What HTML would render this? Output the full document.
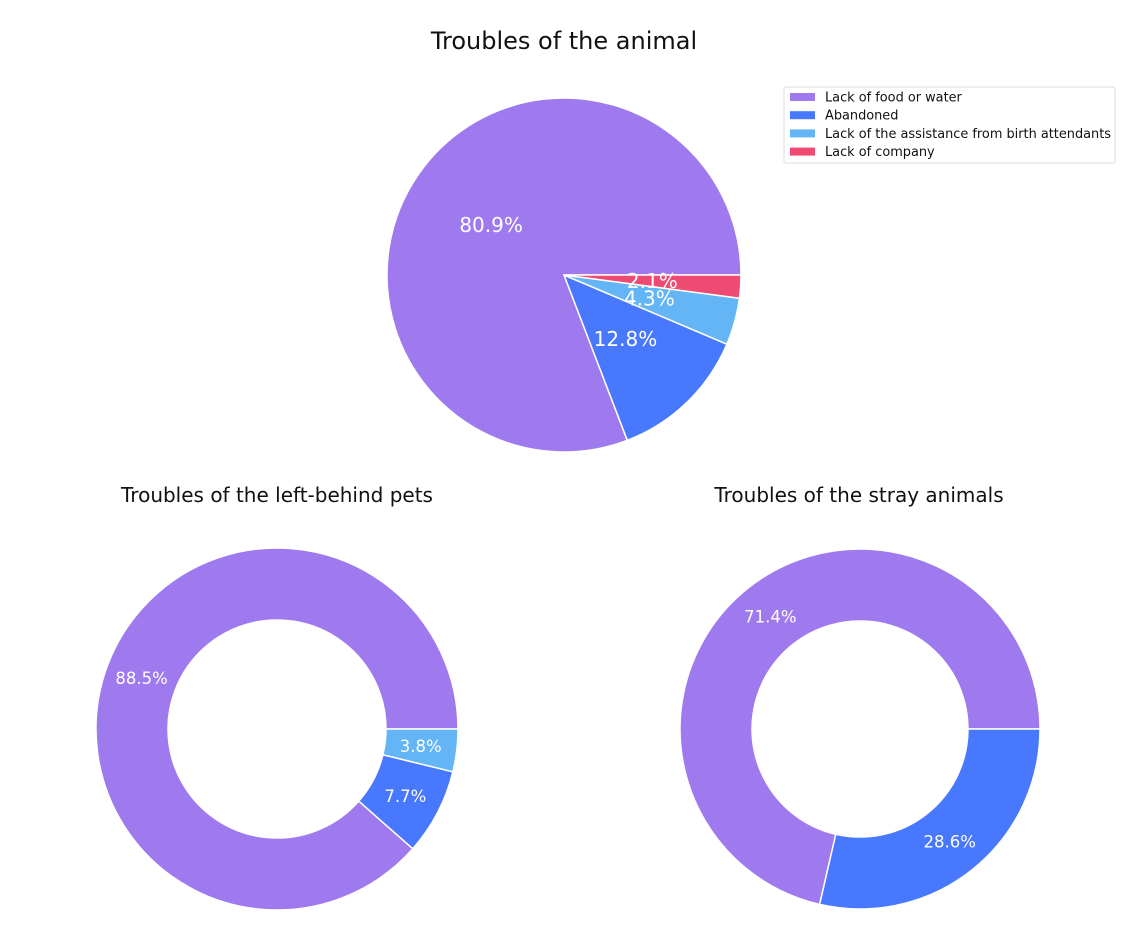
<!DOCTYPE html>
<html><head><meta charset="utf-8"><style>
body{margin:0;background:#fff;}
svg{display:block;font-family:"DejaVu Sans","Liberation Sans",sans-serif;}
</style></head><body>
<svg id="chart" width="1130" height="941">
<text x="564" y="49" font-size="24" text-anchor="middle" fill="#111">Troubles of the animal</text>
<text x="277" y="502" font-size="20" text-anchor="middle" fill="#111">Troubles of the left-behind pets</text>
<text x="859" y="502" font-size="20" text-anchor="middle" fill="#111">Troubles of the stray animals</text>
<g id="legend">
<rect x="784" y="87" width="331" height="76" fill="#fff" stroke="#ddd" rx="2"/>
</g>
</svg>
<script>
const categories=["Lack of food or water","Abandoned","Lack of the assistance from birth attendants","Lack of company"];
const colors=["#9e7aee","#4778fe","#64b5f6","#ef4a72"];
const mainValues=[80.9,12.8,4.3,2.1];
const mainLabels=["80.9%","12.8%","4.3%","2.1%"];
const leftBehindValues=[88.5,7.7,3.8];
const leftBehindLabels=["88.5%","7.7%","3.8%"];
const strayValues=[71.4,28.6];
const strayLabels=["71.4%","28.6%"];
const NS="http://www.w3.org/2000/svg";
const svg=document.getElementById('chart');
function mk(t,a){const e=document.createElementNS(NS,t);for(const k in a)e.setAttribute(k,a[k]);return e;}
function pt(cx,cy,r,deg){const a=deg*Math.PI/180;return [cx+r*Math.cos(a),cy-r*Math.sin(a)];}
function drawPie(vals,labs,cx,cy,R,ri,pd,fs,name){
  const tot=vals.reduce((a,b)=>a+b,0);let start=0;
  const g=mk('g',{});svg.appendChild(g);
  const labels=[];
  vals.forEach((v,i)=>{
    const sweep=v/tot*360,end=start+sweep,large=sweep>180?1:0;
    const [x1,y1]=pt(cx,cy,R,start),[x2,y2]=pt(cx,cy,R,end);
    let d;
    if(ri>0){const [x3,y3]=pt(cx,cy,ri,end),[x4,y4]=pt(cx,cy,ri,start);
      d=`M${x1},${y1}A${R},${R} 0 ${large} 0 ${x2},${y2}L${x3},${y3}A${ri},${ri} 0 ${large} 1 ${x4},${y4}Z`;}
    else d=`M${cx},${cy}L${x1},${y1}A${R},${R} 0 ${large} 0 ${x2},${y2}Z`;
    const p=mk('path',{d:d,fill:colors[i],stroke:'#fff','stroke-width':1.5,'stroke-linejoin':'round'});
    
    
    g.appendChild(p);
    const [lx,ly]=pt(cx,cy,R*pd,start+sweep/2);
    const t=mk('text',{x:lx,y:ly+fs*0.36,'font-size':fs,'text-anchor':'middle',fill:'#fff'});
    t.textContent=labs[i];
    
    
    labels.push(t);
    start=end;
  });
  labels.forEach(t=>g.appendChild(t));
}
drawPie(mainValues,mainLabels,564,275,177,0,0.5,20,'main-pie');
drawPie(leftBehindValues,leftBehindLabels,277,729,181,109,0.8,16.5,'left-behind-donut');
drawPie(strayValues,strayLabels,860,729,180,108,0.8,16.5,'stray-donut');
const lg=document.getElementById('legend');
categories.forEach((c,i)=>{
  const y=97+i*18.2;
  const r=mk('rect',{x:790,y:y-4,width:25,height:8,fill:colors[i]});
  
  
  lg.appendChild(r);
  const t=mk('text',{x:825,y:y+4.5,'font-size':12.9,fill:'#111'});
  t.textContent=c;
  
  
  lg.appendChild(t);
});
</script>
</body></html>
